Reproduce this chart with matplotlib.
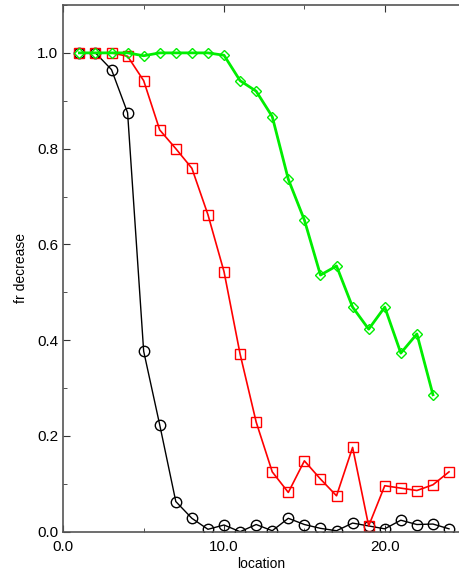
import numpy as np
import matplotlib
matplotlib.use("Agg")
from matplotlib import pyplot as plt
from matplotlib.ticker import MultipleLocator, FormatStrFormatter

plt.rcParams['font.family'] = ['Liberation Sans', 'DejaVu Sans']

location = np.arange(1, 25)
black_vals = [1.0, 1.0, 0.965, 0.875, 0.377, 0.223, 0.063, 0.028, 0.005, 0.014,
              0.0, 0.015, 0.002, 0.028, 0.015, 0.007, 0.002, 0.018, 0.012, 0.006,
              0.024, 0.015, 0.016, 0.006]
red_vals = [1.0, 1.0, 1.0, 0.993, 0.942, 0.839, 0.8, 0.759, 0.662, 0.543,
            0.371, 0.229, 0.125, 0.082, 0.148, 0.11, 0.075, 0.176, 0.012, 0.096,
            0.091, 0.086, 0.098, 0.125]
green_loc = np.arange(1, 24)
green_vals = [1.0, 1.0, 1.0, 1.0, 0.994, 1.0, 1.0, 1.0, 1.0, 0.995,
              0.942, 0.92, 0.867, 0.736, 0.651, 0.536, 0.555, 0.469, 0.423, 0.469,
              0.373, 0.413, 0.286]

fig = plt.figure(figsize=(4.59, 5.74), dpi=100)
ax = fig.add_axes([63.3 / 459, 42.3 / 574, 1 - 63.3 / 459, 526.7 / 574])

ax.plot(location, black_vals, color='black', lw=1.0, marker='o', ms=7.5,
        mfc='none', mec='black', mew=1.0)
ax.plot(location, red_vals, color='red', lw=1.2, marker='s', ms=6.5,
        mfc='none', mec='red', mew=1.0)
ax.plot(green_loc, green_vals, color='#00ee00', lw=2.0, marker='D', ms=5,
        mfc='none', mec='#00ee00', mew=1.0)

ax.set_xlim(0, 24.62)
ax.set_ylim(0, 1.1)
ax.xaxis.set_major_locator(MultipleLocator(10))
ax.xaxis.set_minor_locator(MultipleLocator(5))
ax.yaxis.set_major_locator(MultipleLocator(0.2))
ax.yaxis.set_minor_locator(MultipleLocator(0.1))
ax.xaxis.set_major_formatter(FormatStrFormatter('%.1f'))
ax.yaxis.set_major_formatter(FormatStrFormatter('%.1f'))
ax.tick_params(which='both', direction='in', top=True, right=False,
               labelsize=11, color='#333333')
ax.tick_params(which='major', length=5)
ax.tick_params(which='minor', length=3)
ax.tick_params(axis='x', pad=6)

for side in ['left', 'bottom', 'top']:
    ax.spines[side].set_color('#555555')
    ax.spines[side].set_linewidth(1.2)
ax.spines['right'].set_visible(False)

ax.set_xlabel('location', fontsize=10, labelpad=2)
ax.set_ylabel('fr decrease', fontsize=10, labelpad=7)

fig.savefig('out.png', dpi=100)
